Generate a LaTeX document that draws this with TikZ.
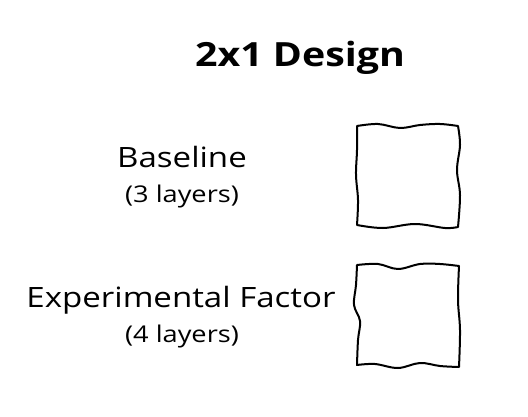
\documentclass[tikz,border=0pt]{standalone}
\usepackage{fontspec}
\setmainfont{Open Sans}[FakeStretch=1.18]
\usetikzlibrary{positioning}

\tikzset{
	title/.style={font=\fontsize{25}{30}\selectfont\bfseries, anchor=base},
	label/.style={font=\fontsize{21}{25}\selectfont, anchor=base},
	sublabel/.style={font=\fontsize{17.3}{21}\selectfont, anchor=base},
	sketch/.style={line width=1.5pt, line join=round, line cap=round}
}

\begin{document}
\begin{tikzpicture}[x=0.75pt, y=-0.75pt]
	\useasboundingbox (0,0) rectangle (528,417);
	% heading
	\node[title] (head) at (300,67) {2x1 Design};
	% row labels
	\node[label] (base) at (182,167) {Baseline};
	\node[sublabel] (basesub) at (182,202) {(3 layers)};
	\node[label] (exp) at (181,307) {Experimental Factor};
	\node[sublabel] (expsub) at (182,342) {(4 layers)};
	% hand drawn cells
	\draw[sketch] plot[smooth, tension=0.6] coordinates {(357,126) (378,124) (400,128) (420,125) (440,124) (458,126)}
		-- plot[smooth, tension=0.6] coordinates {(458,126) (460,145) (457,170) (460,195) (458,227)}
		-- plot[smooth, tension=0.6] coordinates {(458,227) (445,228) (415,224) (383,228) (357,225)}
		-- plot[smooth, tension=0.6] coordinates {(357,225) (358,200) (356,175) (357,150) (357,126)};
	\draw[sketch] plot[smooth, tension=0.6] coordinates {(357,265) (378,264) (398,269) (420,264) (440,264) (459,266)}
		-- plot[smooth, tension=0.6] coordinates {(459,266) (458,300) (460,330) (459,367)}
		-- plot[smooth, tension=0.6] coordinates {(459,367) (440,366) (420,363) (398,368) (375,364) (357,365)}
		-- plot[smooth, tension=0.6] coordinates {(357,365) (358,340) (360,321) (354,305) (356,285) (357,265)};
\end{tikzpicture}
\end{document}
